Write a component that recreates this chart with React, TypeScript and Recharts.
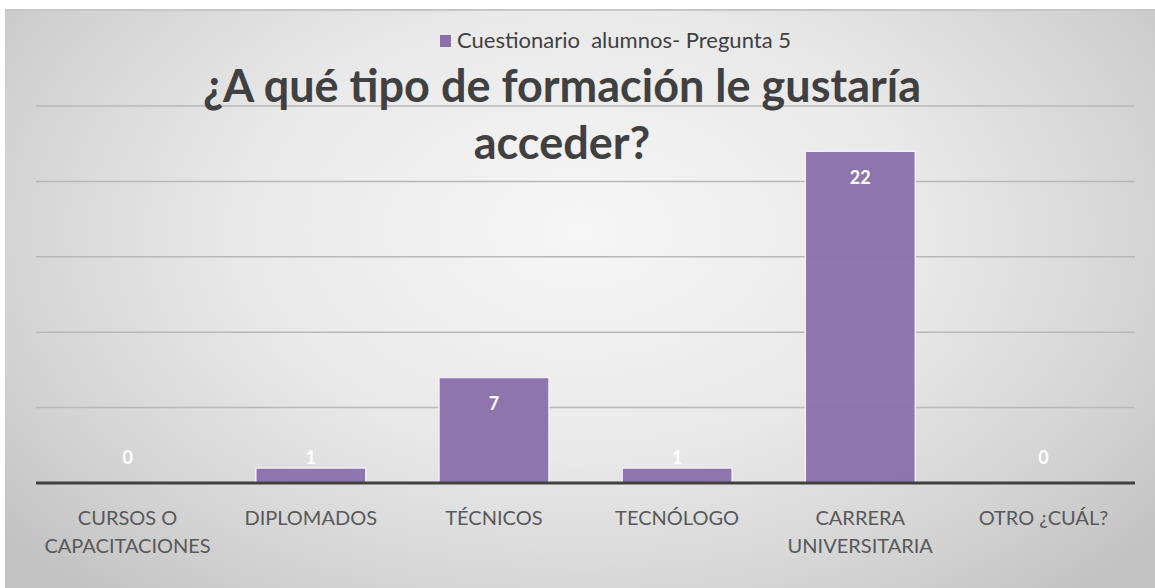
import React from 'react';
import { BarChart, Bar, XAxis, YAxis, CartesianGrid, LabelList, Rectangle } from 'recharts';

// Cuestionario alumnos - pregunta 5
const CATEGORIES = [
  'CURSOS O\nCAPACITACIONES',
  'DIPLOMADOS',
  'TÉCNICOS',
  'TECNÓLOGO',
  'CARRERA\nUNIVERSITARIA',
  'OTRO ¿CUÁL?',
];
const RESPUESTAS = [0, 1, 7, 1, 22, 0];
const Y_TICKS = [0, 5, 10, 15, 20, 25];
const SERIES_NAME = 'Cuestionario  alumnos- Pregunta 5';
const TITLE_LINES = ['¿A qué tipo de formación le gustaría', 'acceder?'];

const BAR_COLOR = '#8a6fab';
const FONT = 'Lato, "Open Sans", sans-serif';

const data = CATEGORIES.map((cat, i) => ({ cat, value: RESPUESTAS[i] }));

const CategoryTick = (props: any) => {
  const { x, y, payload } = props;
  const lines = String(payload.value).split('\n');
  return (
    <text x={x} y={y} textAnchor="middle" fill="#595959" fontSize={20} fontFamily={FONT}>
      {lines.map((line, i) => (
        <tspan key={i} x={x} dy={i === 0 ? 40 : 28}>
          {line}
        </tspan>
      ))}
    </text>
  );
};

// zero-value bars keep a 1px slot so their label is still drawn, but the rect is hidden
const BarShape = (props: any) => {
  if (!props.value) return <g />;
  return <Rectangle {...props} />;
};

const ValueLabel = (props: any) => {
  const { x, y, width, height, value } = props;
  const base = y + height;
  const ly = height > 40 ? y + 26 : base - 26;
  return (
    <text
      x={x + width / 2}
      y={ly}
      textAnchor="middle"
      dominantBaseline="central"
      fill="#ffffff"
      fontSize={18}
      fontWeight="bold"
      fontFamily={FONT}
    >
      {value}
    </text>
  );
};

export default function App() {
  return (
    <div
      style={{
        position: 'absolute',
        left: 5,
        top: 9,
        width: 1150,
        height: 579,
        background:
          'radial-gradient(ellipse 65% 85% at 50% 38%, #f6f6f6 0%, #e9e9e9 45%, #d2d2d2 80%, #c2c2c2 100%)',
        borderTop: '2px solid #c6c6c6',
        boxSizing: 'border-box',
        overflow: 'hidden',
      }}
    >
      <div style={{ position: 'absolute', left: 0, top: -2 }}>
        <BarChart
          width={1150}
          height={579}
          data={data}
          margin={{ top: 97, right: 20, bottom: 0, left: 31 }}
          barCategoryGap="20%"
        >
          <CartesianGrid vertical={false} stroke="#b8b8b8" strokeWidth={1.5} />
          <YAxis hide domain={[0, 25]} ticks={Y_TICKS} />
          <XAxis
            dataKey="cat"
            height={105}
            interval={0}
            tickLine={false}
            tickSize={0}
            axisLine={{ stroke: '#404040', strokeWidth: 3 }}
            tick={<CategoryTick />}
          />
          <Bar
            dataKey="value"
            name={SERIES_NAME}
            fill={BAR_COLOR}
            fillOpacity={0.95}
            stroke="#f2eef6"
            strokeWidth={1.5}
            minPointSize={1}
            shape={<BarShape />}
            isAnimationActive={false}
          >
            <LabelList dataKey="value" content={<ValueLabel />} />
          </Bar>
        </BarChart>
      </div>
      <svg
        width={1150}
        height={579}
        style={{ position: 'absolute', left: 0, top: -2, pointerEvents: 'none' }}
      >
        <rect x={435} y={26} width={11} height={12} fill={BAR_COLOR} />
        <text x={452} y={39} fontSize={22} fill="#404040" fontFamily={FONT} style={{ whiteSpace: 'pre' }}>
          {SERIES_NAME}
        </text>
        {TITLE_LINES.map((line, i) => (
          <text
            key={i}
            x={557}
            y={93 + i * 57}
            textAnchor="middle"
            fontSize={45}
            fontWeight="bold"
            fill="#404040"
            fontFamily={FONT}
          >
            {line}
          </text>
        ))}
      </svg>
    </div>
  );
}
